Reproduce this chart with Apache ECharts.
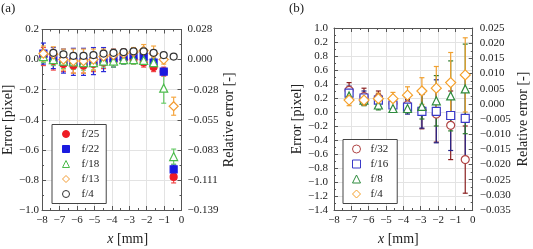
<!DOCTYPE html>
<html><head><meta charset="utf-8">
<script src="https://cdn.jsdelivr.net/npm/echarts@6/dist/echarts.min.js"></script>
<style>html,body{margin:0;padding:0;background:#fff}#c{width:533px;height:249px}</style>
</head><body><div id="c"></div>
<script>
// ---------- data ----------
const xTicks = ["−8","−7","−6","−5","−4","−3","−2","−1","0"];
const leftTicksA = ["0.2","0.0","−0.2","−0.4","−0.6","−0.8","−1.0"];
const rightTicksA = ["0.028","0.000","−0.028","−0.055","−0.083","−0.111","−0.139"];
const leftTicksB = ["1.0","0.2","0.8","0.6","0.4","0.2","0.0","−0.2","−0.4","−0.6","−0.8","−1.0","−1.2","−1.4"];
const rightTicksB = ["0.025","0.020","0.015","0.010","0.005","0.000","−0.005","−0.010","−0.015","−0.020","−0.025","−0.030","−0.035"];

// panel (a)
const xA = [-7.92,-7.35,-6.77,-6.2,-5.62,-5.05,-4.47,-3.9,-3.32,-2.75,-2.17,-1.6,-1.02,-0.45];
const a_f25 = [0.02,-0.01,-0.03,-0.04,-0.04,-0.03,-0.02,-0.01,0.0,0.0,-0.02,-0.05,-0.08,-0.78];
const a_f25_err = [0.06,0.06,0.05,0.05,0.05,0.05,0.04,0.04,0.03,0.03,0.03,0.03,0.03,0.04];
const a_f22 = [0.04,0.01,-0.01,-0.015,-0.015,-0.01,0.0,0.01,0.02,0.03,0.02,-0.02,-0.08,-0.73];
const a_f22_err = [0.07,0.07,0.08,0.09,0.09,0.09,0.08,0.06,0.05,0.04,0.03,0.03,0.02,0.03];
const a_f18 = [0.02,0.0,-0.01,-0.015,-0.02,-0.02,-0.01,-0.01,0.0,0.0,-0.005,-0.02,-0.19,-0.645];
const a_f18_err = [0.04,0.04,0.05,0.05,0.05,0.05,0.04,0.04,0.03,0.03,0.03,0.03,0.10,0.05];
const a_f13 = [0.04,0.035,0.0,-0.01,-0.01,0.0,0.02,0.03,0.04,0.05,0.06,0.04,0.0,-0.31];
const a_f13_err = [0.05,0.05,0.07,0.08,0.08,0.07,0.05,0.04,0.03,0.03,0.04,0.05,0.03,0.06];
const a_f4 = [null,0.045,0.035,0.025,0.025,0.03,0.04,0.045,0.05,0.055,0.055,0.045,0.03,0.02];

// panel (b)
const xB = [-7.13,-6.27,-5.44,-4.6,-3.76,-2.93,-2.1,-1.27,-0.43];
const b_f32 = [0.31,0.22,0.20,0.12,0.10,0.03,-0.03,-0.19,-0.68];
const b_f32_err = [0.11,0.12,0.10,0.08,0.08,0.27,0.40,0.49,0.48];
const b_f16 = [0.27,0.20,0.17,0.10,0.07,0.01,0.01,-0.05,-0.09];
const b_f16_err = [0.10,0.10,0.09,0.07,0.10,0.24,0.45,0.50,0.62];
const b_f8 = [0.23,0.17,0.10,0.05,0.05,0.08,0.16,0.23,0.33];
const b_f8_err = [0.08,0.08,0.07,0.05,0.06,0.18,0.36,0.50,0.64];
const b_f4 = [0.17,0.17,0.19,0.19,0.24,0.30,0.34,0.42,0.53];
const b_f4_err = [0.08,0.07,0.08,0.09,0.12,0.19,0.31,0.43,0.53];

// ---------- chart ----------
const FONT = "'Liberation Serif','DejaVu Serif',serif";
const FRAME = '#555';
const GRIDC = '#e3e3e3';
const chart = echarts.init(document.getElementById('c'));

function pts(xs, ys){ return xs.map((x,i)=> ys[i]==null ? null : [x, ys[i]]).filter(d=>d); }
function errPts(xs, ys, es){ return xs.map((x,i)=> ys[i]==null ? null : [x, ys[i], es[i]]).filter(d=>d); }

function errSeries(xi, yi, xs, ys, es, color){
  return {
    type:'custom', xAxisIndex:xi, yAxisIndex:yi, z:1, silent:true,
    data: errPts(xs, ys, es),
    encode:{x:0, y:1},
    renderItem:function(params, api){
      const x = api.value(0), y = api.value(1), e = api.value(2);
      const p0 = api.coord([x, y + e]), p1 = api.coord([x, y - e]);
      const c = 2.5, st = {stroke:color, lineWidth:1.2};
      return {type:'group', children:[
        {type:'line', shape:{x1:p0[0],y1:p0[1],x2:p1[0],y2:p1[1]}, style:st},
        {type:'line', shape:{x1:p0[0]-c,y1:p0[1],x2:p0[0]+c,y2:p0[1]}, style:st},
        {type:'line', shape:{x1:p1[0]-c,y1:p1[1],x2:p1[0]+c,y2:p1[1]}, style:st}
      ]};
    }
  };
}
function sc(name, xi, yi, xs, ys, symbol, size, fill, border){
  return {type:'scatter', name:name, xAxisIndex:xi, yAxisIndex:yi, z:2,
    data: pts(xs, ys), symbol:symbol, symbolSize:size, symbolKeepAspect:true,
    itemStyle:{color:fill, borderColor:border, borderWidth:1.2, opacity:1},
    emphasis:{disabled:true}};
}

function xAxisBottom(grid, pad){
  return {type:'value', gridIndex:grid, position:'bottom', min:-8, max:0, interval:1,
    axisLine:{show:true, onZero:false, lineStyle:{color:FRAME}},
    axisTick:{show:true, inside:true, length:4, lineStyle:{color:FRAME}},
    minorTick:{show:true, splitNumber:2, length:2, lineStyle:{color:FRAME}},
    splitLine:{show:true, lineStyle:{color:GRIDC}},
    axisLabel:{fontFamily:FONT, fontSize:11, color:'#222', margin:5,
      formatter:(v)=> xTicks[Math.round(v + 8)]},
    name:'{i|x} [mm]', nameLocation:'middle', nameGap:22,
    nameTextStyle:{fontFamily:FONT, fontSize:14, color:'#222', padding:pad,
      rich:{i:{fontFamily:FONT, fontSize:14, fontStyle:'italic', color:'#222'}}}
  };
}
function xAxisTop(grid){
  return {type:'value', gridIndex:grid, position:'top', min:-8, max:0, interval:1,
    axisLine:{show:true, onZero:false, lineStyle:{color:FRAME}},
    axisTick:{show:true, inside:true, length:4, lineStyle:{color:FRAME}},
    minorTick:{show:true, splitNumber:2, length:2, lineStyle:{color:FRAME}},
    splitLine:{show:false}, axisLabel:{show:false}};
}
function yAx(grid, pos, min, max, interval, labels, top, name, gap, margin, split){
  return {type:'value', gridIndex:grid, position:pos, min:min, max:max, interval:interval,
    axisLine:{show:true, onZero:false, lineStyle:{color:FRAME}},
    axisTick:{show:true, inside:true, length:4, lineStyle:{color:FRAME}},
    minorTick:{show:true, splitNumber:2, length:2, lineStyle:{color:FRAME}},
    splitLine:{show:split, lineStyle:{color:GRIDC}},
    axisLabel:{fontFamily:FONT, fontSize:11, color:'#222', margin:margin,
      formatter:(v)=> labels[Math.round((top - v)/interval)]},
    name:name, nameLocation:'middle', nameGap:gap,
    nameTextStyle:{fontFamily:FONT, fontSize:14, color:'#222'}};
}

const legendBase = {
  orient:'vertical', itemGap:2,
  backgroundColor:'#fff', borderColor:'#444', borderWidth:1, borderRadius:0,
  itemStyle:{borderWidth:1},
  formatter:(n)=> n.slice(2), selectedMode:false
};

const option = {
  animation:false,
  title:[
    {text:'(a)', left:1, top:2, textStyle:{fontFamily:FONT, fontSize:13, fontWeight:'normal', color:'#222'}, padding:0},
    {text:'(b)', left:289, top:2, textStyle:{fontFamily:FONT, fontSize:13, fontWeight:'normal', color:'#222'}, padding:0}
  ],
  grid:[
    {left:42, top:29.5, width:139.5, height:180.5, outerBoundsMode:'none', containLabel:false},
    {left:334, top:28, width:138.7, height:182, outerBoundsMode:'none', containLabel:false}
  ],
  xAxis:[ xAxisBottom(0,[0,0,0,32]), xAxisTop(0), xAxisBottom(1,[0,10,0,0]), xAxisTop(1) ],
  yAxis:[
    yAx(0,'left',-1,0.2,0.2,leftTicksA,0.2,'Error [pixel]',25,3,true),
    yAx(0,'right',-1,0.2,0.2,rightTicksA,0.2,'Relative error [-]',38,6,false),
    yAx(1,'left',-1.4,1.2,0.2,leftTicksB,1.2,'Error [pixel]',29,6,true),
    yAx(1,'right',0,12,1,rightTicksB,12,'Relative error [-]',44,7,false)
  ],
  legend:[
    Object.assign({}, legendBase, {left:52, top:124.5, padding:[3,7,3,10],
      itemWidth:7, itemHeight:7,
      textStyle:{fontFamily:FONT, fontSize:11, color:'#222', lineHeight:13, padding:[0,0,0,7]},
      data:['a:f/25','a:f/22','a:f/18','a:f/13','a:f/4']}),
    Object.assign({}, legendBase, {left:343, top:139.5, padding:[3,9,3,9],
      itemWidth:8, itemHeight:8,
      textStyle:{fontFamily:FONT, fontSize:11, color:'#222', lineHeight:13, padding:[0,0,0,5]},
      data:['b:f/32','b:f/16','b:f/8','b:f/4']})
  ],
  series:[
    errSeries(0,0,xA,a_f25,a_f25_err,'#f04a4a'),
    errSeries(0,0,xA,a_f22,a_f22_err,'#2a2ad8'),
    errSeries(0,0,xA,a_f18,a_f18_err,'#6ccc6c'),
    errSeries(0,0,xA,a_f13,a_f13_err,'#f5a742'),
    sc('a:f/25',0,0,xA,a_f25,'circle',7,'#ee1c25','#ee1c25'),
    sc('a:f/22',0,0,xA,a_f22,'rect',7,'#1a1adf','#1a1adf'),
    sc('a:f/18',0,0,xA,a_f18,'triangle',8,'#ffffff','#4cbb4c'),
    sc('a:f/13',0,0,xA,a_f13,'diamond',9,'#ffffff','#f39c33'),
    sc('a:f/4',0,0,xA,a_f4,'circle',7,'#ffffff','#333333'),

    errSeries(2,2,xB,b_f32,b_f32_err,'#8a2020'),
    errSeries(2,2,xB,b_f16,b_f16_err,'#25258a'),
    errSeries(2,2,xB,b_f8,b_f8_err,'#2a7a2a'),
    errSeries(2,2,xB,b_f4,b_f4_err,'#f0a030'),
    sc('b:f/32',2,2,xB,b_f32,'circle',8,'#ffffff','#b04545'),
    sc('b:f/16',2,2,xB,b_f16,'rect',8,'#ffffff','#3a3ac8'),
    sc('b:f/8',2,2,xB,b_f8,'triangle',8,'#ffffff','#2e8b3e'),
    sc('b:f/4',2,2,xB,b_f4,'diamond',10,'#ffffff','#f5a02a')
  ]
};
chart.setOption(option);
</script></body></html>
